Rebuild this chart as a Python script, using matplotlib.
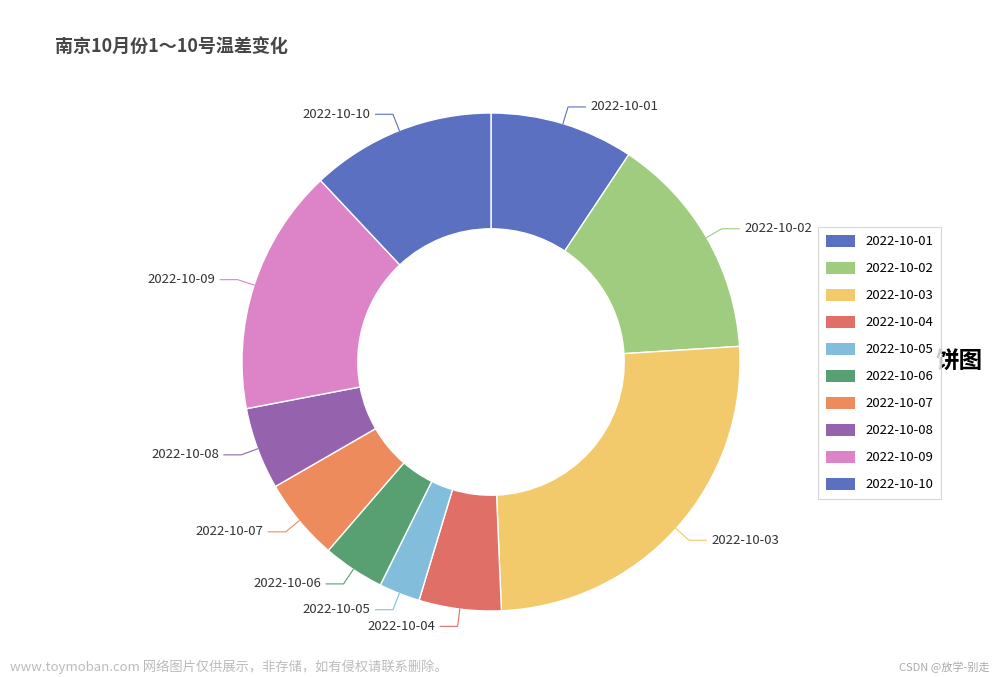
import numpy as np
import matplotlib.pyplot as plt
from matplotlib.patches import Patch

categories = ['2022-10-01','2022-10-02','2022-10-03','2022-10-04','2022-10-05',
              '2022-10-06','2022-10-07','2022-10-08','2022-10-09','2022-10-10']
values = [7, 11, 19, 4, 2, 3, 4, 4, 12, 9]
colors = ['#5b70c1','#9fcc7f','#f2c96b','#e06f68','#82bedc',
          '#58a072','#ee8b5c','#9563ad','#dd83c7','#5b70c1']

plt.rcParams['font.family'] = ['Noto Sans CJK SC', 'DejaVu Sans']
fig = plt.figure(figsize=(10, 6.77), dpi=100)
cx, cy, R = 491, 362, 249
ax = fig.add_axes([(cx-R)/1000, (677-cy-R)/677, 2*R/1000, 2*R/677])
wedges, _ = ax.pie(values, colors=colors, startangle=90, counterclock=False,
                   radius=1, wedgeprops=dict(width=0.465, edgecolor='white', linewidth=1))
ax.set_aspect('auto')
ax.set_xlim(-1, 1); ax.set_ylim(-1, 1); ax.axis('off')
for w, lab, c in zip(wedges, categories, colors):
    a = np.deg2rad((w.theta1 + w.theta2) / 2)
    x0, y0 = np.cos(a), np.sin(a)
    x1, y1 = 1.07*x0, 1.07*y0
    s = 1 if x0 >= 0 else -1
    x2 = x1 + s*0.07
    ax.plot([x0, x1, x2], [y0, y1, y1], color=c, lw=0.8, clip_on=False)
    ax.text(x2 + s*0.02, y1, lab, ha='left' if s > 0 else 'right', va='center',
            fontsize=9.5, color='#333333')

fig.text(0.055, 1-46/677, '南京10月份1～10号温差变化', fontsize=13, fontweight='bold',
         color='#464646', va='center')
handles = [Patch(facecolor=c, label=l) for c, l in zip(colors, categories)]
leg = fig.legend(handles=handles, loc='upper left', bbox_to_anchor=(0.811, 1-220/677),
                 frameon=True, fontsize=9.5, handlelength=2.2, handleheight=1.1,
                 labelspacing=1.0, borderpad=0.6, fancybox=False)
leg.get_frame().set_edgecolor('#cccccc'); leg.get_frame().set_linewidth(0.8)
fig.text(0.936, 1-362/677, '饼图', fontsize=17, fontweight='bold', va='center')
fig.text(0.01, 1-667/677, 'www.toymoban.com 网络图片仅供展示，非存储，如有侵权请联系删除。',
         fontsize=9.5, color='#bbbbbb', va='center')
fig.text(0.99, 1-667/677, 'CSDN @放学-别走', fontsize=8, color='#aaaaaa', va='center', ha='right')
fig.savefig('out.png', dpi=100, facecolor='white')
